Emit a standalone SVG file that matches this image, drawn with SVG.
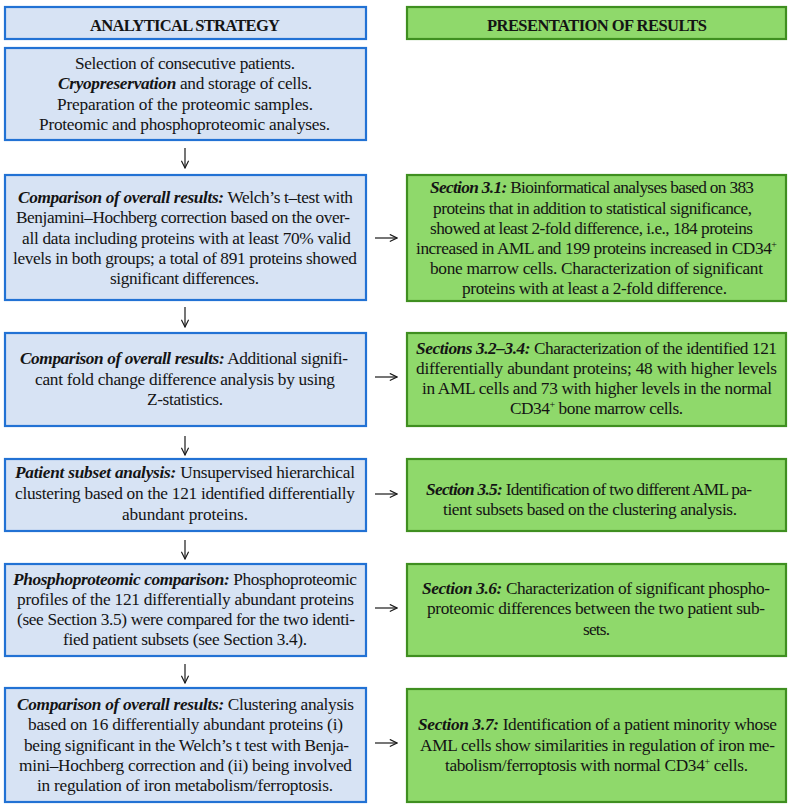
<svg xmlns="http://www.w3.org/2000/svg" width="793" height="807" viewBox="0 0 793 807">
<style>
.lb{fill:#d7e3f4;stroke:#2272d4;stroke-width:2.2}
.gb{fill:#8fd96b;stroke:#3f8f20;stroke-width:2.2}
text{font-family:"Liberation Serif","Times New Roman",serif;font-size:17.3px;fill:#141414}
.h{font-weight:bold;font-size:16.5px}
.bi{font-weight:bold;font-style:italic}
.sup{font-size:10px}
.conn line{stroke:#1a1a1a;stroke-width:1.2;fill:none}
</style>
<defs>
<marker id="ah" viewBox="0 0 10 10" refX="9" refY="5" markerWidth="9" markerHeight="9" markerUnits="userSpaceOnUse" orient="auto">
<path d="M1,1 L9,5 L1,9" fill="none" stroke="#1a1a1a" stroke-width="1.3"/>
</marker>
</defs>
<g id="hdr-left">
<rect class="lb" x="5" y="7" width="361" height="32"/>
<text class="h" x="90" y="31" textLength="190">ANALYTICAL STRATEGY</text>
</g>
<g id="hdr-right">
<rect class="gb" x="407" y="7" width="379" height="32"/>
<text class="h" x="487" y="31" textLength="220">PRESENTATION OF RESULTS</text>
</g>
<g id="n1">
<rect class="lb" x="5" y="48" width="361" height="92"/>
<text x="75" y="69" textLength="220">Selection of consecutive patients.</text>
<text x="58" y="89" textLength="254"><tspan class="bi">Cryopreservation</tspan> and storage of cells.</text>
<text x="57" y="110" textLength="256">Preparation of the proteomic samples.</text>
<text x="39" y="130" textLength="291">Proteomic and phosphoproteomic analyses.</text>
</g>
<g id="n2">
<rect class="lb" x="5" y="175" width="361" height="125"/>
<text x="18" y="203" textLength="335"><tspan class="bi">Comparison of overall results:</tspan> Welch’s t–test with</text>
<text x="16" y="223" textLength="334">Benjamini–Hochberg correction based on the over-</text>
<text x="22" y="244" textLength="329">all data including proteins with at least 70% valid</text>
<text x="13" y="264" textLength="344">levels in both groups; a total of 891 proteins showed</text>
<text x="110" y="284" textLength="149">significant differences.</text>
</g>
<g id="r1">
<rect class="gb" x="407" y="175" width="379" height="126"/>
<text x="430" y="193" textLength="324"><tspan class="bi">Section 3.1:</tspan> Bioinformatical analyses based on 383</text>
<text x="433" y="214" textLength="319">proteins that in addition to statistical significance,</text>
<text x="430" y="234" textLength="323">showed at least 2-fold difference, i.e., 184 proteins</text>
<text x="416" y="254" textLength="361">increased in AML and 199 proteins increased in CD34<tspan class="sup" dy="-6">+</tspan></text>
<text x="430" y="274" textLength="333">bone marrow cells. Characterization of significant</text>
<text x="462" y="294" textLength="265">proteins with at least a 2-fold difference.</text>
</g>
<g id="n3">
<rect class="lb" x="5" y="333" width="361" height="93"/>
<text x="20" y="364" textLength="328"><tspan class="bi">Comparison of overall results:</tspan> Additional signifi-</text>
<text x="35" y="385" textLength="300">cant fold change difference analysis by using</text>
<text x="147" y="405" textLength="76">Z-statistics.</text>
</g>
<g id="r2">
<rect class="gb" x="407" y="333" width="379" height="93"/>
<text x="416" y="354" textLength="361"><tspan class="bi">Sections 3.2–3.4:</tspan> Characterization of the identified 121</text>
<text x="416" y="374" textLength="361">differentially abundant proteins; 48 with higher levels</text>
<text x="422" y="394" textLength="350">in AML cells and 73 with higher levels in the normal</text>
<text x="510" y="414" textLength="173">CD34<tspan class="sup" dy="-6">+</tspan><tspan dy="6"> bone marrow cells.</tspan></text>
</g>
<g id="n4">
<rect class="lb" x="5" y="459" width="361" height="72"/>
<text x="15" y="478" textLength="340"><tspan class="bi">Patient subset analysis:</tspan> Unsupervised hierarchical</text>
<text x="15" y="499" textLength="340">clustering based on the 121 identified differentially</text>
<text x="122" y="520" textLength="126">abundant proteins.</text>
</g>
<g id="r3">
<rect class="gb" x="407" y="459" width="379" height="72"/>
<text x="426" y="495" textLength="326"><tspan class="bi">Section 3.5:</tspan> Identification of two different AML pa-</text>
<text x="443" y="515" textLength="294">tient subsets based on the clustering analysis.</text>
</g>
<g id="n5">
<rect class="lb" x="5" y="564" width="361" height="92"/>
<text x="13" y="585" textLength="344"><tspan class="bi">Phosphoproteomic comparison:</tspan> Phosphoproteomic</text>
<text x="17" y="605" textLength="337">profiles of the 121 differentially abundant proteins</text>
<text x="17" y="625" textLength="338">(see Section 3.5) were compared for the two identi-</text>
<text x="63" y="645" textLength="244">fied patient subsets (see Section 3.4).</text>
</g>
<g id="r4">
<rect class="gb" x="407" y="564" width="379" height="92"/>
<text x="422" y="594" textLength="348"><tspan class="bi">Section 3.6:</tspan> Characterization of significant phospho-</text>
<text x="427" y="614" textLength="338">proteomic differences between the two patient sub-</text>
<text x="583" y="635" textLength="27">sets.</text>
</g>
<g id="n6">
<rect class="lb" x="5" y="688" width="361" height="114"/>
<text x="17" y="710" textLength="337"><tspan class="bi">Comparison of overall results:</tspan> Clustering analysis</text>
<text x="28" y="730" textLength="315">based on 16 differentially abundant proteins (i)</text>
<text x="24" y="751" textLength="325">being significant in the Welch’s t test with Benja-</text>
<text x="19" y="771" textLength="333">mini–Hochberg correction and (ii) being involved</text>
<text x="37" y="791" textLength="296">in regulation of iron metabolism/ferroptosis.</text>
</g>
<g id="r5">
<rect class="gb" x="407" y="689" width="379" height="113"/>
<text x="418" y="730" textLength="359"><tspan class="bi">Section 3.7:</tspan> Identification of a patient minority whose</text>
<text x="420" y="751" textLength="355">AML cells show similarities in regulation of iron me-</text>
<text x="445" y="771" textLength="303">tabolism/ferroptosis with normal CD34<tspan class="sup" dy="-6">+</tspan><tspan dy="6"> cells.</tspan></text>
</g>
<g id="connectors" class="conn">
<line x1="185" y1="148" x2="185" y2="168" marker-end="url(#ah)"/>
<line x1="185" y1="307" x2="185" y2="327" marker-end="url(#ah)"/>
<line x1="185" y1="436" x2="185" y2="455" marker-end="url(#ah)"/>
<line x1="185" y1="540" x2="185" y2="559" marker-end="url(#ah)"/>
<line x1="185" y1="664" x2="185" y2="683" marker-end="url(#ah)"/>
<line x1="375" y1="238" x2="397" y2="238" marker-end="url(#ah)"/>
<line x1="375" y1="377" x2="397" y2="377" marker-end="url(#ah)"/>
<line x1="375" y1="494" x2="397" y2="494" marker-end="url(#ah)"/>
<line x1="375" y1="608" x2="397" y2="608" marker-end="url(#ah)"/>
<line x1="375" y1="743" x2="397" y2="743" marker-end="url(#ah)"/>
</g>
</svg>
